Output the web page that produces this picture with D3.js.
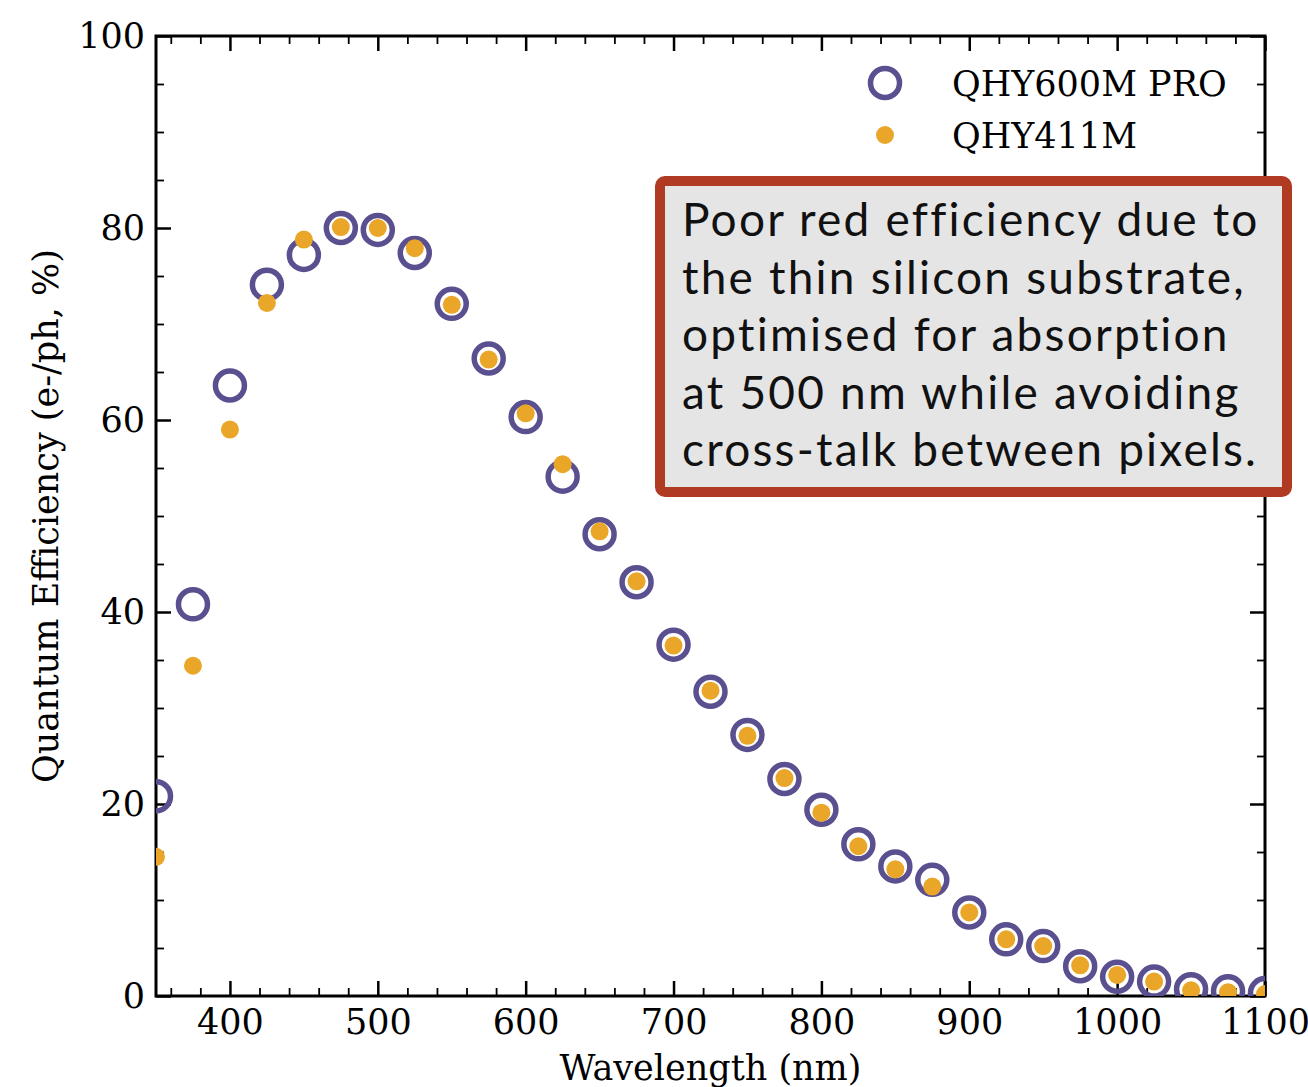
<!DOCTYPE html>
<html>
<head>
<meta charset="utf-8">
<script src="https://cdn.jsdelivr.net/npm/d3@7"></script>
<style>
  body { margin: 0; background: #fff; }
  svg { display: block; }
</style>
</head>
<body>
<div id="container"></div>
<script>
/* DATA */
const wavelengths = [350, 375, 400, 425, 450, 475, 500, 525, 550, 575, 600, 625, 650, 675, 700,
  725, 750, 775, 800, 825, 850, 875, 900, 925, 950, 975, 1000, 1025, 1050, 1075, 1100];
const qhy600 = [20.8, 40.8, 63.6, 74.1, 77.2, 80.0, 79.8, 77.4, 72.1, 66.4, 60.3, 54.1, 48.1, 43.1, 36.6,
  31.7, 27.2, 22.6, 19.4, 15.8, 13.5, 12.1, 8.7, 5.9, 5.2, 3.1, 2.0, 1.5, 0.7, 0.5, 0.3];
const qhy411 = [14.5, 34.4, 59.0, 72.2, 78.8, 80.1, 80.0, 77.9, 72.0, 66.3, 60.7, 55.4, 48.4, 43.2, 36.5,
  31.8, 27.1, 22.7, 19.1, 15.6, 13.2, 11.4, 8.7, 5.9, 5.2, 3.2, 2.2, 1.5, 0.6, 0.4, 0.2];
const seriesNames = ["QHY600M PRO", "QHY411M"];
const xMajorTicks = [400, 500, 600, 700, 800, 900, 1000, 1100];
const yMajorTicks = [0, 20, 40, 60, 80, 100];
const noteLines = ["Poor red efficiency due to", "the thin silicon substrate,",
  "optimised for absorption", "at 500 nm while avoiding", "cross-talk between pixels."];

/* CONSTANTS */
const W = 1308, H = 1087;
const margin = {left: 156, top: 36, right: 43, bottom: 91};
const width = W - margin.left - margin.right;
const height = H - margin.top - margin.bottom;
const purple = "#5a4f8f", orange = "#e9a628";
const serif = "'DejaVu Serif', serif";

const xMinor = d3.range(360, 1101, 20).filter(v => v % 100 !== 0);
const yMinor = d3.range(0, 101, 5).filter(v => v % 20 !== 0);

/* SCALES */
const xScale = d3.scaleLinear().domain([350, 1100]).range([0, width]);
const yScale = d3.scaleLinear().domain([0, 100]).range([height, 0]);

const svg = d3.select("#container").append("svg")
  .attr("width", W).attr("height", H);

const g = svg.append("g").attr("transform", `translate(${margin.left},${margin.top})`);

g.append("clipPath").attr("id", "plotclip")
  .append("rect").attr("width", width).attr("height", height);

/* AXES */
function styleAxis(sel, w) {
  sel.select(".domain").remove();
  sel.selectAll(".tick line").attr("stroke", "#000").attr("stroke-width", w);
  sel.selectAll(".tick text").attr("font-family", serif).attr("font-size", 35).attr("fill", "#000");
}
const fmt = d3.format("d");

g.append("g").attr("transform", `translate(0,${height})`)
  .call(d3.axisBottom(xScale).tickValues(xMajorTicks).tickFormat(fmt).tickSizeInner(-15).tickSizeOuter(0).tickPadding(13))
  .call(s => styleAxis(s, 2.5));
g.append("g").attr("transform", `translate(0,${height})`)
  .call(d3.axisBottom(xScale).tickValues(xMinor).tickSizeInner(-8).tickSizeOuter(0).tickFormat(""))
  .call(s => styleAxis(s, 1.8));
g.append("g")
  .call(d3.axisTop(xScale).tickValues(xMajorTicks).tickSizeInner(-15).tickSizeOuter(0).tickFormat(""))
  .call(s => styleAxis(s, 2.5));
g.append("g")
  .call(d3.axisTop(xScale).tickValues(xMinor).tickSizeInner(-8).tickSizeOuter(0).tickFormat(""))
  .call(s => styleAxis(s, 1.8));

g.append("g")
  .call(d3.axisLeft(yScale).tickValues(yMajorTicks).tickFormat(fmt).tickSizeInner(-15).tickSizeOuter(0).tickPadding(11))
  .call(s => styleAxis(s, 2.5));
g.append("g")
  .call(d3.axisLeft(yScale).tickValues(yMinor).tickSizeInner(-8).tickSizeOuter(0).tickFormat(""))
  .call(s => styleAxis(s, 1.8));
g.append("g").attr("transform", `translate(${width},0)`)
  .call(d3.axisRight(yScale).tickValues(yMajorTicks).tickSizeInner(-15).tickSizeOuter(0).tickFormat(""))
  .call(s => styleAxis(s, 2.5));
g.append("g").attr("transform", `translate(${width},0)`)
  .call(d3.axisRight(yScale).tickValues(yMinor).tickSizeInner(-8).tickSizeOuter(0).tickFormat(""))
  .call(s => styleAxis(s, 1.8));

// frame
g.append("rect").attr("width", width).attr("height", height)
  .attr("fill", "none").attr("stroke", "#000").attr("stroke-width", 3);

// axis labels
g.append("text")
  .attr("x", width / 2).attr("y", height + 84)
  .attr("text-anchor", "middle").attr("font-family", serif).attr("font-size", 35)
  .text("Wavelength (nm)");
g.append("text")
  .attr("transform", `translate(${-margin.left + 58},${height / 2}) rotate(-90)`)
  .attr("text-anchor", "middle").attr("font-family", serif).attr("font-size", 35)
  .text("Quantum Efficiency (e-/ph, %)");

/* MARKS */
const pts = g.append("g").attr("clip-path", "url(#plotclip)");
pts.selectAll("circle.q600")
  .data(wavelengths.map((w, i) => ({w, v: qhy600[i]})))
  .join("circle").attr("class", "q600")
  .attr("cx", d => xScale(d.w)).attr("cy", d => yScale(d.v))
  .attr("r", 14.5).attr("fill", "none").attr("stroke", purple).attr("stroke-width", 5.5);
pts.selectAll("circle.q411")
  .data(wavelengths.map((w, i) => ({w, v: qhy411[i]})))
  .join("circle").attr("class", "q411")
  .attr("cx", d => xScale(d.w)).attr("cy", d => yScale(d.v))
  .attr("r", 9).attr("fill", orange);

/* LEGEND */
const legend = g.append("g").attr("transform", `translate(${885 - margin.left},${83 - margin.top})`);
legend.append("circle").attr("r", 14.5).attr("fill", "none").attr("stroke", purple).attr("stroke-width", 5.5);
legend.append("circle").attr("cy", 52).attr("r", 9).attr("fill", orange);
legend.selectAll("text").data(seriesNames).join("text")
  .attr("x", 67).attr("y", (d, i) => i * 52 + 13)
  .attr("font-family", serif).attr("font-size", 35)
  .text(d => d);

/* NOTE BOX */
const note = svg.append("g");
note.append("rect")
  .attr("x", 660).attr("y", 181).attr("width", 627).attr("height", 311)
  .attr("rx", 5).attr("fill", "#e5e5e5").attr("stroke", "#b03a22").attr("stroke-width", 10);
note.selectAll("text").data(noteLines).join("text")
  .attr("x", 682).attr("y", (d, i) => 236 + i * 57.5)
  .attr("font-family", "Lato, 'Noto Sans', sans-serif").attr("font-size", 46)
  .attr("letter-spacing", 2.2)
  .attr("fill", "#111")
  .text(d => d);
</script>
</body>
</html>
